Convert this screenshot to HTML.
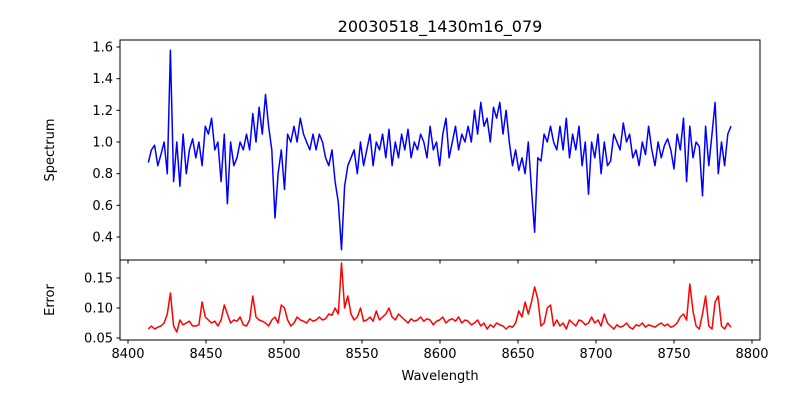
<!DOCTYPE html>
<html><head><meta charset="utf-8"><style>
html,body{margin:0;padding:0;background:#fff;}
svg{display:block;font-family:"DejaVu Sans","Liberation Sans",sans-serif;}
</style></head><body>
<svg id="chart" width="800" height="400" viewBox="0 0 800 400">
<rect width="800" height="400" fill="#fff"/>
<text x="440" y="32" text-anchor="middle" font-size="16">20030518_1430m16_079</text>
<text transform="translate(54,150) rotate(-90)" text-anchor="middle" font-size="13">Spectrum</text>
<text transform="translate(54,300) rotate(-90)" text-anchor="middle" font-size="13">Error</text>
<text x="440" y="380" text-anchor="middle" font-size="13">Wavelength</text>
<g id="g"></g>
</svg>
<script>
const wlStart = 8413, wlStep = 2.03;
const spectrum = [
0.87,0.95,0.98,0.85,0.92,1.0,0.8,1.58,0.75,1.0,
0.72,1.05,0.8,0.95,1.02,0.9,1.0,0.85,1.1,1.05,
1.15,0.95,1.0,0.75,1.05,0.61,1.0,0.85,0.9,1.0,
0.95,1.05,0.95,1.18,1.0,1.22,1.05,1.3,1.1,0.95,
0.52,0.8,0.95,0.7,1.05,1.0,1.1,1.0,1.15,1.05,
1.0,0.95,1.05,0.95,1.05,1.0,0.9,0.85,0.95,0.75,
0.62,0.32,0.72,0.85,0.9,0.95,0.8,1.0,0.85,0.95,
1.05,0.85,1.0,0.95,1.05,0.9,1.08,0.85,1.0,0.9,
1.05,0.95,1.08,0.9,1.0,0.95,1.05,1.0,0.9,1.1,
0.95,1.0,0.85,1.05,1.15,0.9,1.0,1.1,0.95,1.05,
1.0,1.1,1.0,1.2,1.05,1.25,1.1,1.15,1.0,1.22,
1.15,1.25,1.05,1.2,1.0,0.85,0.95,0.82,0.9,0.8,
1.0,0.7,0.43,0.9,0.88,1.05,1.0,1.1,1.0,0.95,
1.1,0.95,1.15,0.9,1.05,0.95,1.1,0.85,1.0,0.67,
1.0,0.9,1.05,0.8,1.0,0.85,0.88,1.05,1.0,0.95,
1.12,1.0,1.05,0.9,0.95,0.85,1.0,0.92,1.1,0.95,
0.85,1.0,0.9,0.98,1.02,0.95,0.83,1.05,0.95,1.15,
0.75,1.1,0.9,1.0,0.97,0.66,1.1,0.85,1.05,1.25,
0.8,1.0,0.85,1.05,1.1];
const errors = [
.065,.07,.065,.068,.07,.075,.09,.125,.07,.06,
.08,.072,.075,.078,.07,.07,.072,.11,.085,.08,
.075,.078,.07,.08,.105,.09,.075,.08,.078,.085,
.072,.07,.08,.12,.085,.08,.078,.075,.07,.08,
.085,.075,.105,.10,.08,.07,.075,.085,.08,.078,
.075,.082,.078,.08,.085,.08,.082,.09,.088,.1,
.09,.175,.1,.12,.09,.08,.085,.1,.078,.08,
.085,.078,.095,.08,.085,.09,.1,.085,.08,.09,
.085,.08,.075,.082,.078,.08,.085,.078,.082,.08,
.072,.078,.08,.085,.075,.08,.082,.078,.085,.075,
.08,.078,.072,.075,.08,.07,.075,.065,.072,.068,
.075,.072,.07,.065,.07,.068,.075,.095,.085,.11,
.09,.11,.135,.115,.07,.075,.1,.105,.07,.08,
.07,.075,.065,.08,.075,.07,.08,.078,.072,.075,
.085,.075,.08,.07,.09,.075,.07,.065,.072,.068,
.07,.075,.068,.065,.072,.07,.075,.068,.072,.07,
.068,.072,.075,.07,.073,.068,.07,.075,.085,.09,
.08,.14,.095,.07,.065,.09,.12,.07,.065,.11,
.12,.07,.065,.075,.068];
const xTicks = [8400,8450,8500,8550,8600,8650,8700,8750,8800];
const specTicks = [0.4,0.6,0.8,1.0,1.2,1.4,1.6];
const errTicks = [0.05,0.10,0.15];

const NS='http://www.w3.org/2000/svg', g=document.getElementById('g');
const X = w => 128 + (w-8400)*1.56;
const Ys = v => 47 + (1.6-v)*158.33;
const Ye = v => 338 - (v-0.05)*600;
function mk(t,a){const e=document.createElementNS(NS,t);for(const k in a)e.setAttribute(k,a[k]);g.appendChild(e);return e;}

function series(arr,Y,color,name){
  let d='';arr.forEach((v,i)=>{d+=(i?'L':'M')+X(wlStart+i*wlStep).toFixed(1)+','+Y(v).toFixed(1);});
  const p=mk('path',{d:d,fill:'none',stroke:color,'stroke-width':1.5,'stroke-linejoin':'round'});
  
  
}
series(spectrum,Ys,'#0000ff','spectrum-line');
series(errors,Ye,'#ff0000','error-line');

const f1=mk('rect',{x:120,y:40,width:640,height:220,fill:'none',stroke:'#000','stroke-width':1});


const f2=mk('rect',{x:120,y:260,width:640,height:80,fill:'none',stroke:'#000','stroke-width':1});



xTicks.forEach(t=>{
  const x=X(t);
  mk('line',{x1:x,x2:x,y1:260,y2:263.5,stroke:'#000'});
  mk('line',{x1:x,x2:x,y1:340,y2:343.5,stroke:'#000'});
  const tx=mk('text',{x:x,y:358,'text-anchor':'middle','font-size':13});
  tx.textContent=t;
  
  
});
specTicks.forEach(t=>{
  const y=Ys(t);
  mk('line',{x1:116.5,x2:120,y1:y,y2:y,stroke:'#000'});
  const tx=mk('text',{x:113,y:y+4.5,'text-anchor':'end','font-size':13});
  tx.textContent=t.toFixed(1);
  
  
});
errTicks.forEach(t=>{
  const y=Ye(t);
  mk('line',{x1:116.5,x2:120,y1:y,y2:y,stroke:'#000'});
  const tx=mk('text',{x:113,y:y+4.5,'text-anchor':'end','font-size':13});
  tx.textContent=t.toFixed(2);
  
  
});
</script>
</body></html>
